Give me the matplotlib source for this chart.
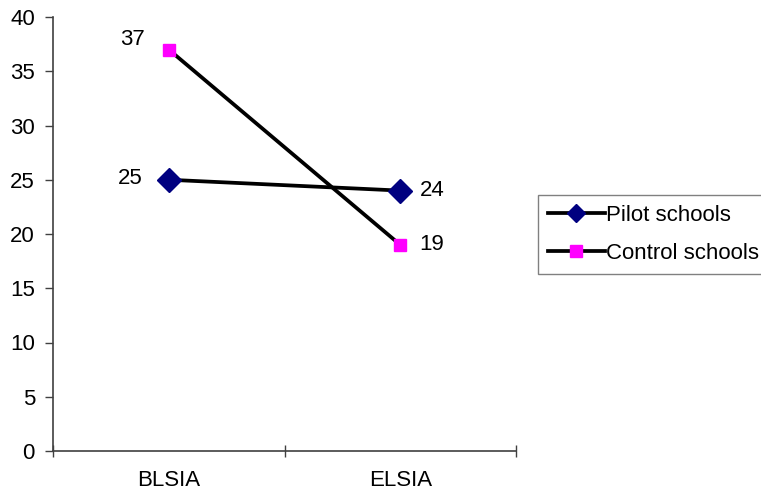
import matplotlib
matplotlib.use("Agg")
import matplotlib.pyplot as plt

categories = ["BLSIA", "ELSIA"]
pilot = [25, 24]
control = [37, 19]
series_names = ["Pilot schools", "Control schools"]

plt.rcParams['font.family'] = ['Liberation Sans', 'DejaVu Sans']
FS = 16

fig = plt.figure(figsize=(7.61, 4.97), dpi=100)
ax = fig.add_axes([53/761, 46/497, (516-53)/761, (451-17)/497])

x = [0.5, 1.5]
ax.plot(x, pilot, color='black', lw=2.7, marker='D', markersize=12,
        markerfacecolor='#000080', markeredgecolor='#000080', label=series_names[0], zorder=3)
ax.plot(x, control, color='black', lw=2.7, marker='s', markersize=9,
        markerfacecolor='#FF00FF', markeredgecolor='#FF00FF', label=series_names[1], zorder=3)

# data labels
ax.annotate(str(control[0]), (x[0], control[0]), xytext=(-17, 7), textcoords='offset points',
            ha='right', va='center', fontsize=FS)
ax.annotate(str(pilot[0]), (x[0], pilot[0]), xytext=(-19, 1), textcoords='offset points',
            ha='right', va='center', fontsize=FS)
ax.annotate(str(pilot[1]), (x[1], pilot[1]), xytext=(14, 0), textcoords='offset points',
            ha='left', va='center', fontsize=FS)
ax.annotate(str(control[1]), (x[1], control[1]), xytext=(14, 0), textcoords='offset points',
            ha='left', va='center', fontsize=FS)

ax.set_xlim(0, 2)
ax.set_ylim(0, 40)
ax.set_yticks(range(0, 41, 5))
ax.set_xticks([0, 1, 2])
ax.set_xticklabels([])
ax.set_xticks(x, minor=True)
ax.set_xticklabels(categories, minor=True, fontsize=FS)
ax.tick_params(axis='x', which='minor', length=0, pad=14)
ax.tick_params(axis='x', which='major', direction='inout', length=8, width=1, color='#404040')
ax.tick_params(axis='y', direction='out', length=6, width=1, labelsize=FS, color='#404040', pad=7)
for s in ['top', 'right']:
    ax.spines[s].set_visible(False)
for s in ['left', 'bottom']:
    ax.spines[s].set_color('#404040')
    ax.spines[s].set_linewidth(1.2)

leg = fig.legend(loc='upper left', bbox_to_anchor=(538/761, 1 - 195/497), fontsize=FS,
                 frameon=True, fancybox=False, edgecolor='#606060', handlelength=2.55,
                 handletextpad=0.05, borderpad=0.45, labelspacing=0.75, borderaxespad=0)
leg.get_frame().set_linewidth(1.0)
lines = leg.get_lines()
lines[0].set_markersize(9)
lines[1].set_markersize(8)

fig.savefig("out.png", dpi=100)
